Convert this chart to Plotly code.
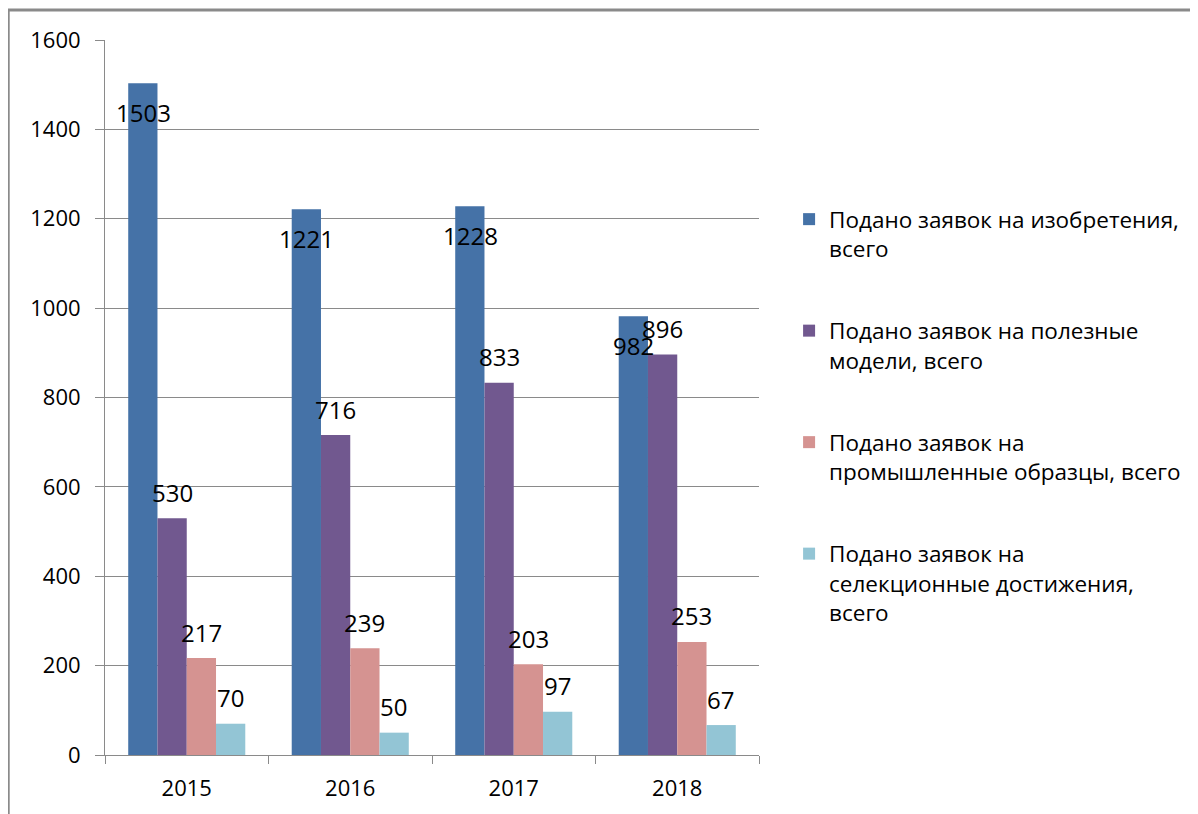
import plotly.graph_objects as go

years = ["2015", "2016", "2017", "2018"]
series_names = [
    "Подано заявок на изобретения,<br>всего",
    "Подано заявок на полезные<br>модели, всего",
    "Подано заявок на<br>промышленные образцы, всего",
    "Подано заявок на<br>селекционные достижения,<br>всего",
]
inventions = [1503, 1221, 1228, 982]
utility_models = [530, 716, 833, 896]
industrial_designs = [217, 239, 203, 253]
breeding = [70, 50, 97, 67]
y_ticks = [0, 200, 400, 600, 800, 1000, 1200, 1400, 1600]

colors = ["#4572A7", "#71588F", "#D59391", "#93C5D5"]
all_values = [inventions, utility_models, industrial_designs, breeding]

FONT = "Open Sans"

fig = go.Figure()
for i, (name, vals) in enumerate(zip(series_names, all_values)):
    fig.add_trace(go.Bar(
        x=years, y=vals, name=name, legendgroup=f"g{i}",
        marker=dict(color=colors[i], line=dict(width=0)),
    ))

bar_px = 29.1
annotations = []
for i, vals in enumerate(all_values):
    for ci, v in enumerate(vals):
        annotations.append(dict(
            x=ci, y=v, xref="x", yref="y", text=str(v), showarrow=False,
            xshift=(i - 1.5) * bar_px, yshift=(-29 if i == 0 else 26),
            font=dict(family=FONT, size=24, color="#000000"),
        ))

fig.update_layout(
    width=1198, height=814,
    margin=dict(l=97, r=447, t=32, b=67),
    paper_bgcolor="white", plot_bgcolor="white",
    barmode="group", bargap=0.284, bargroupgap=0,
    font=dict(family=FONT, size=22, color="#000000"),
    showlegend=True,
    legend=dict(
        x=1.046, xanchor="left", y=0.779, yanchor="top",
        font=dict(family=FONT, size=22.5, color="#000000"),
        valign="top", tracegroupgap=50, bgcolor="rgba(0,0,0,0)",
    ),
    annotations=annotations,
    shapes=[dict(
        type="rect", xref="paper", yref="paper",
        x0=-0.148, x1=2.0, y0=-0.5, y1=1.042,
        line=dict(color="#8a8a8a", width=3), fillcolor="rgba(0,0,0,0)",
        layer="below",
    )],
)
fig.update_xaxes(
    type="category", range=[-0.5, len(years) - 0.5], autorange=False,
    showline=True, linecolor="#8a8a8a", linewidth=1,
    ticks="outside", ticklen=8, tickcolor="#8a8a8a", tickson="boundaries",
    showgrid=False, tickangle=0, ticklabelstandoff=14,
    tickfont=dict(family=FONT, size=22, color="#000000"),
)
fig.update_yaxes(
    range=[0, 1600], autorange=False, tickvals=y_ticks, showline=True,
    linecolor="#8a8a8a", linewidth=1, ticks="outside", ticklen=9,
    tickcolor="#8a8a8a", showgrid=True, gridcolor="#8a8a8a", gridwidth=1,
    zeroline=False, tickfont=dict(family=FONT, size=22, color="#000000"),
    ticklabelstandoff=10,
)

fig.write_html("out.html")
